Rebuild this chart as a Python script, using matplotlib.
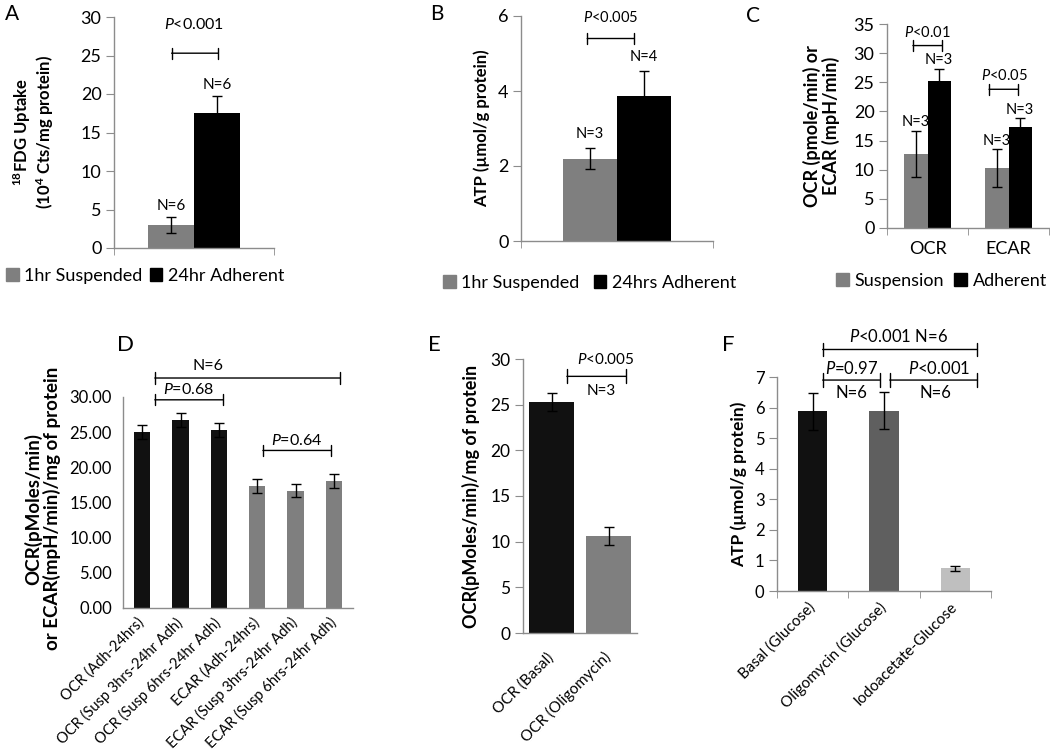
import numpy as np
import matplotlib
matplotlib.use('Agg')
import matplotlib.pyplot as plt
from matplotlib.patches import Patch

plt.rcParams['font.family'] = ['Lato', 'DejaVu Sans']
plt.rcParams['mathtext.fontset'] = 'custom'
plt.rcParams['mathtext.rm'] = 'Lato'
plt.rcParams['mathtext.it'] = 'Lato:italic'
plt.rcParams['mathtext.bf'] = 'Lato:bold'

# ---- data ----
# A: 18FDG uptake
a_series = ['1hr Suspended', '24hr Adherent']
a_vals = [3.0, 17.5]
a_err = [1.05, 2.2]
a_n = ['N=6', 'N=6']

# B: ATP
b_series = ['1hr Suspended', '24hrs Adherent']
b_vals = [2.2, 3.88]
b_err = [0.27, 0.65]
b_n = ['N=3', 'N=4']

# C: OCR / ECAR suspension vs adherent
c_cats = ['OCR', 'ECAR']
c_series = ['Suspension', 'Adherent']
c_susp = [12.7, 10.3]
c_susp_err = [4.0, 3.2]
c_adh = [25.3, 17.3]
c_adh_err = [2.0, 1.5]

# D: OCR / ECAR after suspension times
d_cats = ['OCR (Adh-24hrs)', 'OCR (Susp 3hrs-24hr Adh)', 'OCR (Susp 6hrs-24hr Adh)',
          'ECAR (Adh-24hrs)', 'ECAR (Susp 3hrs-24hr Adh)', 'ECAR (Susp 6hrs-24hr Adh)']
d_vals = [25.0, 26.7, 25.3, 17.3, 16.7, 18.0]
d_err = [1.0, 1.0, 1.0, 1.0, 0.9, 1.0]

# E: OCR basal vs oligomycin
e_cats = ['OCR (Basal)', 'OCR (Oligomycin)']
e_vals = [25.3, 10.65]
e_err = [1.0, 1.0]

# F: ATP with inhibitors
f_cats = ['Basal (Glucose)', 'Oligomycin (Glucose)', 'Iodoacetate-Glucose']
f_vals = [5.88, 5.9, 0.75]
f_err = [0.6, 0.6, 0.08]

GRAY = '#7f7f7f'
BLACK = '#000000'
SPINE = '#8c8c8c'
P = '$\\mathit{P}$'

fig = plt.figure(figsize=(10.5, 7.56), dpi=100)


def style(ax, yticks, fs=12):
    for s in ['top', 'right']:
        ax.spines[s].set_visible(False)
    for s in ['left', 'bottom']:
        ax.spines[s].set_color(SPINE)
        ax.spines[s].set_linewidth(1)
    ax.set_yticks(yticks)
    ax.set_ylim(yticks[0], yticks[-1])
    ax.tick_params(axis='y', color=SPINE, length=6, labelsize=fs, pad=3)
    ax.tick_params(axis='x', length=0)
    ax.tick_params(axis='x', which='minor', color=SPINE, length=5)


def bracket(ax, x1, x2, y, w=0.4):
    ax.annotate('', xy=(x1, y), xytext=(x2, y), annotation_clip=False,
                arrowprops=dict(arrowstyle='|-|, widthA=%g, widthB=%g' % (w, w),
                                lw=1, color='k', shrinkA=0, shrinkB=0))


def label(ax, x, y, s, fs=10.5, dy=2, va='bottom'):
    ax.annotate(s, (x, y), xytext=(0, dy), textcoords='offset points',
                ha='center', va=va, fontsize=fs, annotation_clip=False)


ebkw = dict(ecolor='k', capsize=3.5, elinewidth=1, capthick=1)
legkw = dict(frameon=False, fontsize=13, handlelength=0.7, handleheight=0.7,
             handletextpad=0.3, loc='center left', borderpad=0, borderaxespad=0)

# ---- A ----
ax = fig.add_axes([114 / 1050, 1 - 248 / 756, 160 / 1050, 231 / 756])
w = 0.29
xa = np.array([-w / 2, w / 2])
ax.bar(xa, a_vals, w, yerr=a_err, color=[GRAY, BLACK], error_kw=ebkw)
ax.set_xlim(-0.5, 0.5)
ax.set_xticks([])
ax.set_xticks([-0.5, 0.5], minor=True)
style(ax, [0, 5, 10, 15, 20, 25, 30], fs=13)
for x, v, e, n in zip(xa, a_vals, a_err, a_n):
    label(ax, x, v + e, n, dy=3, fs=11)
bracket(ax, xa[0] + 0.005, xa[1] + 0.005, 25.3)
label(ax, 0.0, 28.0, P + '<0.001', fs=11.5, dy=0)
ax.set_ylabel('$\\mathbf{^{18}}$FDG Uptake\n(10$\\mathbf{^4}$ Cts/mg protein)',
              fontsize=12, fontweight='bold', linespacing=1.1)
ax.yaxis.set_label_coords(-0.36, 0.5)
ax.legend(handles=[Patch(color=GRAY), Patch(color=BLACK)], labels=a_series, ncol=2,
          columnspacing=0.4, bbox_to_anchor=(6 / 1050, 1 - 276 / 756),
          bbox_transform=fig.transFigure, **legkw)
fig.text(5 / 1050, 1 - 14 / 756, 'A', fontsize=15, va='center')

# ---- B ----
ax = fig.add_axes([521 / 1050, 1 - 241 / 756, 192 / 1050, 225 / 756])
w = 0.28
xb = np.array([-w / 2, w / 2])
ax.bar(xb, b_vals, w, yerr=b_err, color=[GRAY, BLACK], error_kw=ebkw)
ax.set_xlim(-0.5, 0.5)
ax.set_xticks([])
ax.set_xticks([-0.5, 0.5], minor=True)
style(ax, [0, 2, 4, 6], fs=13)
for x, v, e, n in zip(xb, b_vals, b_err, b_n):
    label(ax, x, v + e, n, dy=5, fs=10.5)
bracket(ax, -0.155, 0.09, 5.4)
label(ax, -0.035, 5.75, P + '<0.005', fs=10.5, dy=0)
ax.set_ylabel('ATP (µmol/g protein)', fontsize=12, fontweight='bold')
ax.yaxis.set_label_coords(-0.16, 0.5)
ax.legend(handles=[Patch(color=GRAY), Patch(color=BLACK)], labels=b_series, ncol=2,
          columnspacing=0.8, bbox_to_anchor=(443 / 1050, 1 - 283 / 756),
          bbox_transform=fig.transFigure, **legkw)
fig.text(430 / 1050, 1 - 14 / 756, 'B', fontsize=15, va='center')

# ---- C ----
ax = fig.add_axes([887 / 1050, 1 - 228 / 756, 162 / 1050, 204 / 756])
w = 0.29
xc = np.arange(len(c_cats))
ax.bar(xc - w / 2, c_susp, w, yerr=c_susp_err, color=GRAY, error_kw=ebkw)
ax.bar(xc + w / 2, c_adh, w, yerr=c_adh_err, color=BLACK, error_kw=ebkw)
ax.set_xlim(-0.5, 1.5)
ax.set_xticks(xc)
ax.set_xticklabels(c_cats, fontsize=13)
ax.set_xticks([-0.5, 0.5, 1.5], minor=True)
style(ax, [0, 5, 10, 15, 20, 25, 30, 35], fs=13)
ax.tick_params(axis='x', pad=9)
for i in range(2):
    label(ax, xc[i] - w / 2, c_susp[i] + c_susp_err[i], 'N=3', fs=10.5, dy=1)
    label(ax, xc[i] + w / 2, c_adh[i] + c_adh_err[i], 'N=3', fs=10.5, dy=1)
bracket(ax, -0.18, 0.18, 31.3)
label(ax, 0.0, 32.3, P + '<0.01', fs=10.5, dy=0)
bracket(ax, 0.76, 1.12, 23.8)
label(ax, 0.95, 24.8, P + '<0.05', fs=10.5, dy=0)
ax.set_ylabel('OCR (pmole/min) or\nECAR (mpH/min)', fontsize=13, fontweight='bold',
              linespacing=1.05)
ax.yaxis.set_label_coords(-0.29, 0.5)
ax.legend(handles=[Patch(color=GRAY), Patch(color=BLACK)], labels=c_series, ncol=2,
          columnspacing=0.6, bbox_to_anchor=(836 / 1050, 1 - 281 / 756),
          bbox_transform=fig.transFigure, **legkw)
fig.text(746 / 1050, 1 - 16 / 756, 'C', fontsize=15, va='center')

# ---- D ----
ax = fig.add_axes([123 / 1050, 1 - 608 / 756, 230 / 1050, 211 / 756])
xd = np.arange(len(d_cats))
ax.bar(xd, d_vals, 0.42, yerr=d_err, color=['#111111'] * 3 + [GRAY] * 3, error_kw=ebkw)
ax.set_xlim(-0.5, 5.5)
ax.set_xticks(xd)
ax.set_xticklabels(d_cats, rotation=45, ha='right', va='center', rotation_mode='anchor',
                   fontsize=10.5)
style(ax, [0, 5, 10, 15, 20, 25, 30], fs=12)
ax.set_yticklabels(['%.2f' % t for t in ax.get_yticks()])
ax.tick_params(axis='y', length=0, pad=8)
ax.tick_params(axis='x', pad=9)
bracket(ax, 0.33, 5.16, 32.7)
label(ax, 1.72, 33.4, 'N=6', fs=11.5, dy=0)
bracket(ax, 0.33, 2.11, 29.6)
label(ax, 1.22, 30.0, P + '=0.68', fs=11.5, dy=0)
bracket(ax, 3.15, 4.93, 22.4)
label(ax, 4.04, 22.8, P + '=0.64', fs=11.5, dy=0)
ax.set_ylabel('OCR(pMoles/min)\nor ECAR(mpH/min)/mg of protein', fontsize=13.5,
              fontweight='bold', linespacing=1.05)
ax.yaxis.set_label_coords(-0.27, 0.47)
fig.text(117 / 1050, 1 - 345 / 756, 'D', fontsize=16, va='center')

# ---- E ----
ax = fig.add_axes([523 / 1050, 1 - 633 / 756, 114 / 1050, 274 / 756])
xe = np.arange(len(e_cats))
ax.bar(xe, e_vals, 0.79, yerr=e_err, color=['#111111', GRAY], error_kw=ebkw)
ax.set_xlim(-0.5, 1.5)
ax.set_xticks(xe)
ax.set_xticklabels(e_cats, rotation=45, ha='right', va='center', rotation_mode='anchor',
                   fontsize=11)
style(ax, [0, 5, 10, 15, 20, 25, 30], fs=12.5)
ax.tick_params(axis='x', pad=16)
bracket(ax, 0.27, 1.31, 28.1, w=0.5)
label(ax, 0.95, 29.1, P + '<0.005', fs=11, dy=0)
label(ax, 0.87, 27.3, 'N=3', fs=11, dy=0, va='top')
ax.set_ylabel('OCR(pMoles/min)/mg of protein', fontsize=13, fontweight='bold')
ax.yaxis.set_label_coords(-0.38, 0.5)
fig.text(428 / 1050, 1 - 345 / 756, 'E', fontsize=16, va='center')

# ---- F ----
ax = fig.add_axes([777 / 1050, 1 - 591 / 756, 214 / 1050, 214 / 756])
xf = np.arange(len(f_cats))
ax.bar(xf, f_vals, 0.41, yerr=f_err, color=['#111111', '#5f5f5f', '#bfbfbf'], error_kw=ebkw)
ax.set_xlim(-0.5, 2.5)
ax.set_xticks(xf)
ax.set_xticklabels(f_cats, rotation=45, ha='right', va='center', rotation_mode='anchor',
                   fontsize=11)
ax.set_xticks([-0.5, 0.5, 1.5, 2.5], minor=True)
style(ax, [0, 1, 2, 3, 4, 5, 6, 7], fs=12)
ax.tick_params(axis='x', pad=10)
bracket(ax, 0.14, 2.31, 7.9, w=0.5)
label(ax, 1.2, 8.05, P + '<0.001 N=6', fs=12, dy=0)
bracket(ax, 0.14, 0.94, 6.9, w=0.5)
label(ax, 0.54, 7.0, P + '=0.97', fs=12, dy=0)
label(ax, 0.54, 6.75, 'N=6', fs=12, dy=0, va='top')
bracket(ax, 1.08, 2.31, 6.9, w=0.5)
label(ax, 1.77, 7.0, P + '<0.001', fs=12, dy=0)
label(ax, 1.72, 6.75, 'N=6', fs=12, dy=0, va='top')
ax.set_ylabel('ATP (µmol/g protein)', fontsize=12.5, fontweight='bold')
ax.yaxis.set_label_coords(-0.14, 0.5)
fig.text(722 / 1050, 1 - 345 / 756, 'F', fontsize=16, va='center')

fig.savefig('out.png', dpi=100)
